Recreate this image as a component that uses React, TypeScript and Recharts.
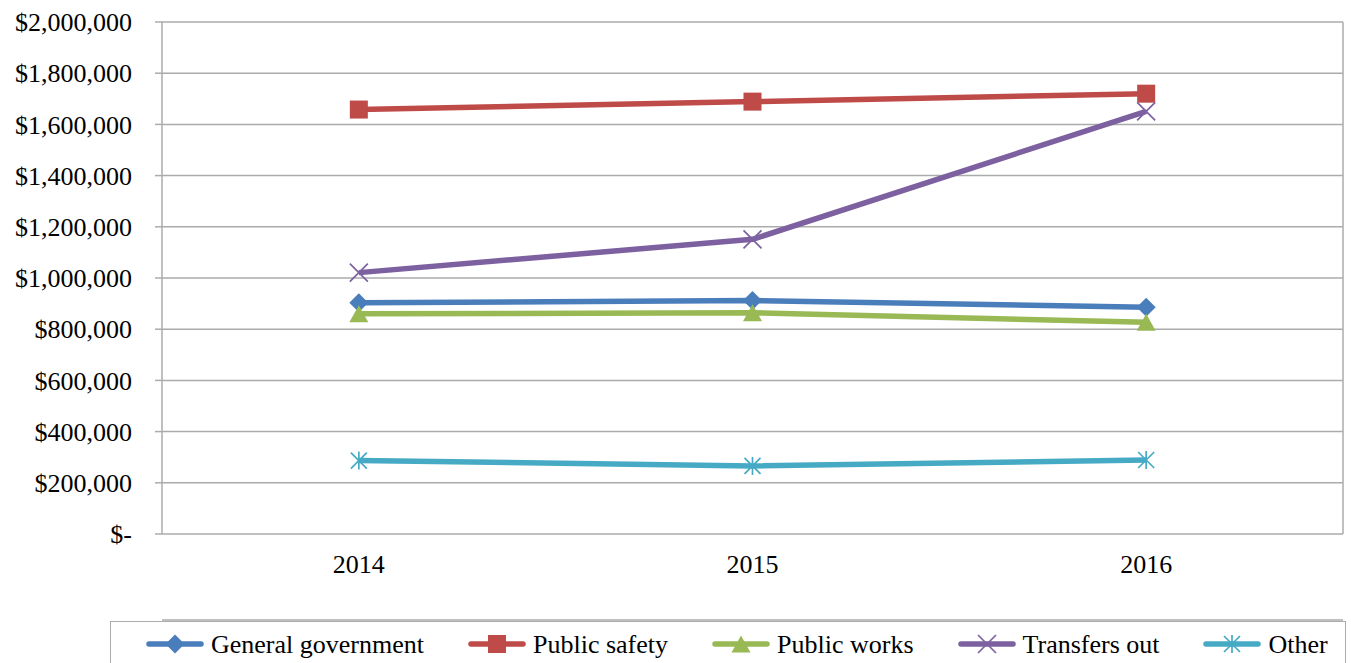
import React from 'react';
import { LineChart, Line, XAxis, YAxis, CartesianGrid, Legend } from 'recharts';

const years = [2014, 2015, 2016];
const generalGovernment = [903000, 912000, 886000];
const publicSafety = [1658000, 1689000, 1720000];
const publicWorks = [860000, 864000, 827000];
const transfersOut = [1021000, 1151000, 1651000];
const other = [287000, 266000, 289000];

const yTicks = [0, 200000, 400000, 600000, 800000, 1000000, 1200000, 1400000, 1600000, 1800000, 2000000];
const xLabelTicks = years;
const xBoundaryTicks = [2013.5, 2014.5, 2015.5, 2016.5];

const seriesKeys = ['gg', 'ps', 'pw', 'to', 'ot'];
const seriesNames = ['General government', 'Public safety', 'Public works', 'Transfers out', 'Other'];
const seriesColors = ['#4A7EBB', '#BE4B48', '#98B954', '#7D60A0', '#46AAC5'];
const seriesMarkers = ['diamond', 'square', 'triangle', 'x', 'star'];

const data = years.map((year, i) => ({
  year,
  gg: generalGovernment[i],
  ps: publicSafety[i],
  pw: publicWorks[i],
  to: transfersOut[i],
  ot: other[i],
}));

const FONT = "'Liberation Serif', 'Times New Roman', serif";
const GRID = '#ABABAB';

const formatDollar = (v: number) => (v === 0 ? '$-' : '$' + v.toLocaleString('en-US'));

function Marker({ kind, cx, cy, color }: { kind: string; cx: number; cy: number; color: string }) {
  if (cx == null || cy == null) return null;
  switch (kind) {
    case 'diamond':
      return <polygon points={`${cx},${cy - 9.5} ${cx + 9.5},${cy} ${cx},${cy + 9.5} ${cx - 9.5},${cy}`} fill={color} />;
    case 'square':
      return <rect x={cx - 9} y={cy - 9} width={18} height={18} fill={color} />;
    case 'triangle':
      return <polygon points={`${cx},${cy - 8.5} ${cx + 9.5},${cy + 8.5} ${cx - 9.5},${cy + 8.5}`} fill={color} />;
    case 'x':
      return (
        <g stroke={color} strokeWidth={1.7}>
          <line x1={cx - 9} y1={cy - 9} x2={cx + 9} y2={cy + 9} />
          <line x1={cx - 9} y1={cy + 9} x2={cx + 9} y2={cy - 9} />
        </g>
      );
    case 'star':
      return (
        <g stroke={color} strokeWidth={1.7}>
          <line x1={cx - 8} y1={cy - 8} x2={cx + 8} y2={cy + 8} />
          <line x1={cx - 8} y1={cy + 8} x2={cx + 8} y2={cy - 8} />
          <line x1={cx} y1={cy - 9} x2={cx} y2={cy + 9} />
        </g>
      );
    default:
      return null;
  }
}

const renderLegend = (props: any) => {
  const payload = [...(props.payload || [])].sort(
    (a: any, b: any) => seriesKeys.indexOf(a.dataKey) - seriesKeys.indexOf(b.dataKey)
  );
  return (
    <div
      style={{
        boxSizing: 'border-box',
        height: 42,
        borderTop: `1px solid ${GRID}`,
        borderLeft: `1px solid ${GRID}`,
        borderRight: `1px solid ${GRID}`,
        display: 'flex',
        alignItems: 'flex-start',
        paddingLeft: 35,
        paddingTop: 10,
        fontFamily: FONT,
        fontSize: 26,
        lineHeight: '26px',
        color: '#000',
      }}
    >
      {payload.map((entry: any, i: number) => {
        const idx = seriesKeys.indexOf(entry.dataKey);
        const color = seriesColors[idx] || entry.color;
        return (
          <div key={`leg-${i}`} style={{ display: 'flex', alignItems: 'center', marginRight: 44, height: 26 }}>
            <svg width={58} height={26} style={{ display: 'block' }}>
              <line x1={3} y1={12} x2={55} y2={12} stroke={color} strokeWidth={5.5} strokeLinecap="round" />
              <Marker kind={seriesMarkers[idx]} cx={29} cy={12} color={color} />
            </svg>
            <span style={{ marginLeft: 7, whiteSpace: 'nowrap' }}>{entry.value}</span>
          </div>
        );
      })}
    </div>
  );
};

export default function App() {
  return (
    <div style={{ width: 1351, height: 663, background: '#fff' }}>
      <style>{'body{margin:0;background:#fff;}'}</style>
      <LineChart width={1351} height={663} data={data} margin={{ top: 22, right: 0, bottom: 0, left: 0 }}>
        <CartesianGrid vertical={false} stroke={GRID} strokeWidth={1.5} xAxisId="l" yAxisId="y" />
        <XAxis
          xAxisId="t"
          type="number"
          domain={[2013.5, 2016.5]}
          ticks={xBoundaryTicks}
          tick={false}
          tickSize={7}
          tickLine={{ stroke: GRID, strokeWidth: 1.5 }}
          axisLine={{ stroke: GRID, strokeWidth: 1.5 }}
          height={1}
          allowDataOverflow
        />
        <XAxis
          xAxisId="l"
          type="number"
          dataKey="year"
          domain={[2013.5, 2016.5]}
          ticks={xLabelTicks}
          tickLine={false}
          axisLine={false}
          tickSize={6}
          tickMargin={15}
          height={86}
          allowDataOverflow
          tick={{ fill: '#000', fontSize: 26, fontFamily: FONT }}
        />
        <YAxis
          yAxisId="y"
          domain={[0, 2000000]}
          ticks={yTicks}
          width={162}
          tickSize={7}
          tickMargin={23}
          tickFormatter={formatDollar}
          tickLine={{ stroke: GRID, strokeWidth: 1.5 }}
          axisLine={{ stroke: GRID, strokeWidth: 1.5 }}
          tick={{ fill: '#000', fontSize: 26, fontFamily: FONT }}
          interval={0}
        />
        <YAxis
          yAxisId="r"
          orientation="right"
          domain={[0, 2000000]}
          width={8}
          tick={false}
          tickLine={false}
          axisLine={{ stroke: GRID, strokeWidth: 1.5 }}
        />
        <Legend
          verticalAlign="bottom"
          content={renderLegend}
          itemSorter={null as any}
          wrapperStyle={{ left: 110, bottom: 0, width: 1236, height: 42 }}
        />
        {seriesKeys.map((k, si) => (
          <Line
            key={k}
            xAxisId="l"
            yAxisId="y"
            type="linear"
            dataKey={k}
            name={seriesNames[si]}
            stroke={seriesColors[si]}
            strokeWidth={5.5}
            strokeLinejoin="round"
            isAnimationActive={false}
            activeDot={false}
            dot={(p: any) => (
              <Marker key={`${k}-dot-${p.index}`} kind={seriesMarkers[si]} cx={p.cx} cy={p.cy} color={seriesColors[si]} />
            )}
          />
        ))}
      </LineChart>
    </div>
  );
}
